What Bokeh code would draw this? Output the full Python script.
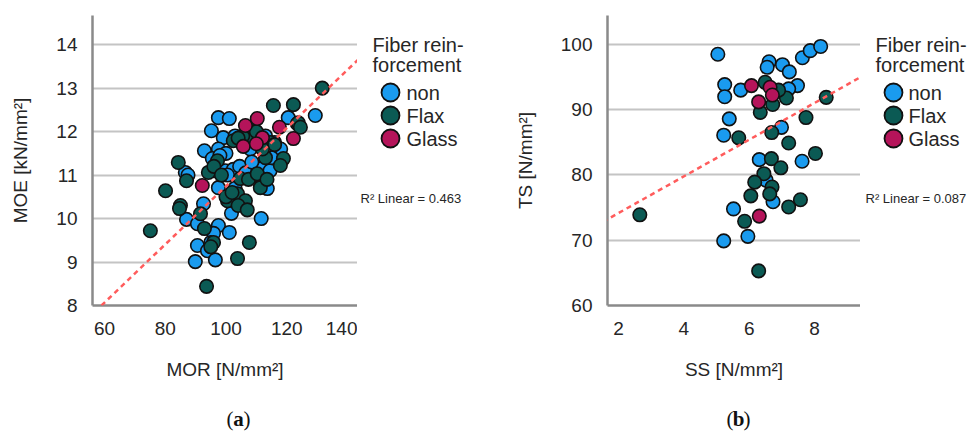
from bokeh.plotting import figure
from bokeh.layouts import row, column
from bokeh.models import Range1d, FixedTicker, Slope
from bokeh.core.properties import value
from bokeh.embed import file_html
from bokeh.resources import INLINE

# ---------------- data (a): MOR vs MOE ----------------
non_mor = [97.5, 101.1, 95.2, 99.1, 92.9, 97.5, 95.5, 86.6, 87.5, 99.8, 102.4, 104.5, 106.5,
           112.3, 114.5, 97.5, 113.6, 120.5, 129.4, 123.5, 92.6, 87.0, 90.6, 97.5, 95.9, 101.1,
           90.6, 93.9, 89.9, 96.5, 101.8, 111.6, 100.0, 98.0, 103.0, 108.0, 110.0, 116.0, 118.0,
           115.0, 100.5, 103.0, 95.0, 108.5, 113.0, 96.0]
non_moe = [12.32, 12.30, 12.02, 11.86, 11.56, 11.60, 11.38, 11.06, 11.00, 11.10, 11.13, 11.20, 11.05,
           11.17, 11.10, 10.71, 10.69, 12.32, 12.37, 12.18, 10.34, 9.98, 9.88, 9.84, 9.66, 9.68,
           9.38, 9.26, 9.01, 9.05, 10.12, 10.00, 11.50, 11.45, 11.90, 11.60, 11.00, 11.75, 11.60,
           11.40, 11.00, 10.70, 9.45, 11.30, 11.90, 11.10]
flax_mor = [131.7, 115.6, 122.2, 123.8, 124.5, 84.3, 87.0, 80.1, 97.2, 94.2, 96.0, 104.7, 107.4,
            110.3, 113.0, 118.9, 117.9, 111.3, 103.8, 100.5, 106.4, 85.0, 102.4, 108.0, 114.6, 105.5,
            108.5, 116.0, 75.1, 84.7, 91.6, 92.9, 95.9, 107.7, 103.8, 93.6, 100.0, 104.0, 102.0,
            110.0, 112.0, 104.0, 95.0, 113.5, 107.0, 98.5]
flax_moe = [13.00, 12.60, 12.62, 12.20, 12.10, 11.29, 10.87, 10.64, 11.33, 11.06, 11.20, 10.92, 10.90,
            11.03, 11.40, 11.38, 11.22, 10.71, 10.57, 10.41, 10.41, 10.30, 11.79, 11.86, 11.75, 11.90,
            12.10, 11.70, 9.72, 10.23, 10.11, 9.77, 9.45, 9.45, 9.08, 8.44, 10.50, 10.30, 10.60,
            12.00, 11.60, 11.85, 9.35, 10.90, 10.20, 11.00]
glass_mor = [106.4, 110.3, 117.6, 122.2, 112.0, 105.7, 110.0, 92.2]
glass_moe = [12.14, 12.30, 12.10, 11.84, 11.86, 11.66, 11.72, 10.76]
fit_a = {"gradient": 0.0669, "intercept": 4.053, "r2": "0.463"}

# ---------------- data (b): SS vs TS ----------------
non_ss = [5.04, 5.25, 5.25, 5.39, 5.22, 5.74, 6.61, 6.55, 7.02, 7.23, 7.63, 7.87, 8.19, 7.48,
          7.21, 6.99, 6.31, 7.62, 6.52, 6.73, 5.52, 5.22, 5.96]
non_ts = [98.5, 93.85, 92.0, 88.6, 86.1, 93.0, 97.35, 96.5, 96.9, 95.8, 97.96, 99.05, 99.7, 93.7,
          93.2, 87.3, 82.35, 82.1, 79.2, 75.9, 74.8, 69.9, 70.6]
flax_ss = [2.65, 5.68, 6.34, 6.49, 6.72, 7.14, 6.9, 7.74, 8.36, 6.69, 7.21, 6.68, 6.97, 8.03,
           6.45, 6.17, 6.7, 6.63, 6.05, 7.21, 7.57, 5.86, 6.29]
flax_ts = [73.9, 85.7, 89.6, 94.2, 90.8, 91.8, 93.0, 88.8, 91.9, 86.5, 84.9, 82.5, 81.1, 83.3,
           80.2, 78.9, 78.15, 77.1, 76.8, 75.1, 76.2, 72.9, 65.3]
glass_ss = [6.07, 6.64, 6.29, 6.71, 6.31]
glass_ts = [93.7, 93.45, 91.2, 92.25, 73.7]
fit_b = {"gradient": 2.81, "intercept": 68.55, "r2": "0.087"}

groups = ["non", "Flax", "Glass"]
colors = ["#1a9bef", "#0b5a54", "#b5145a"]
legend_title = ["Fiber rein-", "forcement"]

a_xticks = [60, 80, 100, 120, 140]
a_yticks = [8, 9, 10, 11, 12, 13, 14]
b_xticks = [2, 4, 6, 8]
b_yticks = [60, 70, 80, 90, 100]

FONT = "Liberation Sans"
TXT = "#262626"
ROW_H = 390
TOP = 15
FH = 290
CAP_H = 45


def scatter_panel(xs, ys, xr, yr, xticks, yticks, xlabel, ylabel, fit, left, fw):
    p = figure(width=left + fw, height=ROW_H, frame_width=fw, frame_height=FH,
               x_range=Range1d(*xr), y_range=Range1d(*yr),
               min_border_left=left, min_border_right=0,
               min_border_top=TOP, min_border_bottom=ROW_H - TOP - FH,
               output_backend="svg", toolbar_location=None)
    p.outline_line_color = None
    p.xgrid.grid_line_color = None
    p.ygrid.grid_line_color = "#c4c4c4"
    p.ygrid.grid_line_width = 2
    p.xaxis.ticker = FixedTicker(ticks=xticks)
    p.yaxis.ticker = FixedTicker(ticks=yticks)
    for ax in (p.xaxis[0], p.yaxis[0]):
        ax.axis_line_color = "#8a8a8a"
        ax.axis_line_width = 2.5
        ax.major_tick_line_color = None
        ax.minor_tick_line_color = None
        ax.major_label_text_font = FONT
        ax.major_label_text_font_size = "19px"
        ax.major_label_text_color = TXT
        ax.axis_label_text_font = FONT
        ax.axis_label_text_font_size = "19px"
        ax.axis_label_text_font_style = "normal"
        ax.axis_label_text_color = TXT
    p.xaxis.axis_label = xlabel
    p.yaxis.axis_label = ylabel
    p.xaxis.major_label_standoff = 10
    p.yaxis.major_label_standoff = 9
    p.xaxis.axis_label_standoff = 21
    p.yaxis.axis_label_standoff = 22

    p.add_layout(Slope(gradient=fit["gradient"], y_intercept=fit["intercept"],
                       line_color="#ff5c5c", line_width=2.5, line_dash="5 4"))
    for gx, gy, c in zip(xs, ys, colors):
        p.scatter(gx, gy, size=13.5, fill_color=c, line_color="#111111", line_width=1.6)
    return p


def blank(width, height, top=0, bottom=0):
    fh = height - top - bottom
    p = figure(width=width, height=height, frame_width=width, frame_height=fh,
               x_range=Range1d(0, width), y_range=Range1d(height - bottom, top),
               x_axis_type=None, y_axis_type=None, min_border=0,
               min_border_top=top, min_border_bottom=bottom,
               output_backend="svg", toolbar_location=None)
    p.outline_line_color = None
    p.grid.visible = False
    return p


def legend_panel(width, fit, title_x, mark_x, label_x, r2_x):
    p = blank(width, ROW_H, TOP, ROW_H - TOP - FH)
    p.text(x=[title_x] * len(legend_title), y=[44 + 20 * i for i in range(len(legend_title))],
           text=legend_title, text_font=value(FONT), text_font_size="20px",
           text_color=TXT, text_baseline="alphabetic", text_align="left")
    ys = [92 + 23 * i for i in range(len(groups))]
    p.scatter(x=[mark_x] * len(groups), y=ys, size=18, fill_color=colors,
              line_color="#111111", line_width=1.8)
    p.text(x=[label_x] * len(groups), y=ys, text=groups, text_font=value(FONT),
           text_font_size="20px", text_color=TXT, text_baseline="middle", text_align="left")
    p.text(x=[r2_x], y=[198], text=["R\u00b2 Linear = " + fit["r2"]], text_font=value(FONT),
           text_font_size="13px", text_color=TXT, text_baseline="alphabetic", text_align="left")
    return p


pa = scatter_panel([non_mor, flax_mor, glass_mor], [non_moe, flax_moe, glass_moe],
                   (56.05, 143.3), (8, 14.67), a_xticks, a_yticks,
                   "MOR [N/mm\u00b2]", "MOE [kN/mm\u00b2]", fit_a, 92, 265)
la = legend_panel(131, fit_a, 15, 33, 49, 3)
pb = scatter_panel([non_ss, flax_ss, glass_ss], [non_ts, flax_ts, glass_ts],
                   (1.66, 9.41), (60, 104.44), b_xticks, b_yticks,
                   "SS [N/mm\u00b2]", "TS [N/mm\u00b2]", fit_b, 119, 253)
lb = legend_panel(115, fit_b, 15, 33, 48, 5)

cap = blank(975, CAP_H)
for cx, letter in ((238, "a"), (738, "b")):
    cap.text(x=[cx - 8.5, cx + 8.5], y=[28, 28], text=["(", ")"],
             text_font=value("Liberation Serif"), text_font_size="21px", text_color="#111111",
             text_baseline="middle", text_align="center")
    cap.text(x=[cx], y=[28], text=[letter], text_font=value("Liberation Serif"),
             text_font_size="21px", text_font_style="bold", text_color="#111111",
             text_baseline="middle", text_align="center")

layout = column(row(pa, la, pb, lb), cap)
open("out.html", "w").write(file_html(layout, INLINE))
